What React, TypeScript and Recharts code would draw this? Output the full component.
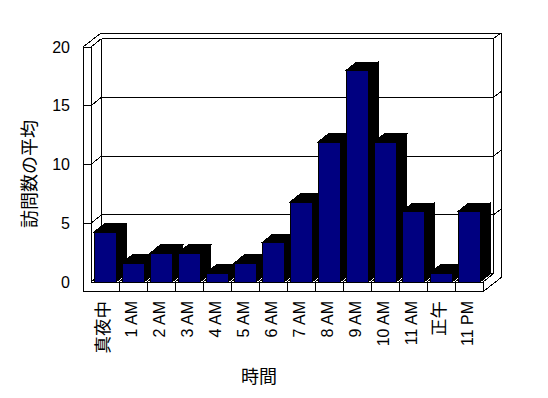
import { BarChart, Bar, XAxis, YAxis, CartesianGrid } from 'recharts';

const hours = [
  '真夜中', '1 AM', '2 AM', '3 AM', '4 AM', '5 AM', '6 AM',
  '7 AM', '8 AM', '9 AM', '10 AM', '11 AM', '正午', '11 PM',
];
const visits = [4.25, 1.6, 2.45, 2.45, 0.75, 1.6, 3.35, 6.8, 11.9, 18, 11.9, 6, 0.75, 6];
const yTicks = [0, 5, 10, 15, 20];

const data = hours.map((hour, i) => ({ hour, value: visits[i] }));

// depth offsets of the fake 3D box
const DX = 10.5;
const DY = -8.5;
const WALL = 8;
const FLOOR = 9.7;
const OX = 18;
const OY = -14;

const FONT = "'Liberation Sans', 'Noto Sans CJK JP', sans-serif";
const INK = '#000';

function seg(x1: number, y1: number, x2: number, y2: number, key: string) {
  return <line key={key} x1={x1} y1={y1} x2={x2} y2={y2} stroke={INK} strokeWidth={1} />;
}

function frame(x: number, y: number, w: number, h: number) {
  const b = y + h;
  const n = hours.length;
  const out = [
    // left wall
    seg(x - WALL, y, x - WALL, b + FLOOR, 'lw1'),
    seg(x - WALL, y, x, y, 'lw2'),
    seg(x, y, x, b, 'lw3'),
    seg(x - WALL, y, x - WALL + OX, y + OY, 'lw4'),
    seg(x, y, x + DX, y + DY, 'lw5'),
    seg(x + DX, y + DY, x + DX, b + DY, 'bp1'),
    // back wall top and right
    seg(x - WALL + OX, y + OY, x + w + OX, y + OY, 'bw1'),
    seg(x + w + DX, y + DY, x + w + OX, y + OY, 'bw2'),
    seg(x + w + OX, y + OY, x + w + OX, b + FLOOR + OY, 'bw3'),
    seg(x + w + DX, y + DY, x + w + DX, b + DY, 'bp2'),
    // floor
    seg(x, b, x + w, b, 'f1'),
    seg(x - WALL, b + FLOOR, x + w, b + FLOOR, 'f2'),
    seg(x + w, b, x + w, b + FLOOR, 'f3'),
    seg(x + w, b + FLOOR, x + w + OX, b + FLOOR + OY, 'f4'),
    seg(x + w, b, x + w + DX, b + DY, 'f5'),
    seg(x, b, x + DX, b + DY, 'f6'),
  ];
  for (let i = 1; i < n; i++) {
    const bx = x + (i * w) / n;
    out.push(seg(bx, b, bx, b + FLOOR, `d${i}`));
    out.push(seg(bx, b, bx + DX, b + DY, `dd${i}`));
  }
  return out;
}

function renderGridLine(p: any) {
  const { x, y, width, height, y1, index } = p;
  const inner = y1 > y + 0.5 && y1 < y + height - 0.5;
  return (
    <g key={`g-${index}`} shapeRendering="crispEdges">
      {index === 0 && frame(x, y, width, height)}
      {inner && seg(x - WALL, y1, x, y1, 'a')}
      {inner && seg(x, y1, x + DX, y1 + DY, 'b')}
      {seg(x + DX, y1 + DY, x + width + DX, y1 + DY, 'c')}
      {inner && seg(x + width + DX, y1 + DY, x + width + OX, y1 + OY, 'e')}
    </g>
  );
}

function Bar3D(props: any) {
  const { x, y, width, height } = props;
  return (
    <g shapeRendering="crispEdges">
      <polygon
        points={`${x},${y} ${x + DX},${y + DY} ${x + width + DX},${y + DY} ${x + width},${y}`}
        fill={INK}
        stroke={INK}
      />
      <polygon
        points={`${x + width},${y} ${x + width + DX},${y + DY} ${x + width + DX},${y + height + DY} ${x + width},${y + height}`}
        fill={INK}
        stroke={INK}
      />
      <rect x={x} y={y} width={width} height={height} fill="#000080" stroke={INK} />
    </g>
  );
}

function HourTick({ x, payload }: any) {
  const label = String(payload.value);
  const cjk = /[^\x00-\x7f]/.test(label);
  const tx = x - 2;
  const ty = 301;
  return (
    <text
      x={tx}
      y={ty}
      transform={`rotate(-90 ${tx} ${ty})`}
      textAnchor="end"
      dominantBaseline="central"
      fontFamily={FONT}
      fontSize={cjk ? 17.5 : 16}
      fill={INK}
    >
      {label}
    </text>
  );
}

function ValueTick({ y, payload }: any) {
  return (
    <text x={70} y={y} textAnchor="end" dominantBaseline="central" fontFamily={FONT} fontSize={16} fill={INK}>
      {payload.value}
    </text>
  );
}

const YTitle = () => (
  <text
    x={30}
    y={174}
    transform="rotate(-90 30 174)"
    textAnchor="middle"
    dominantBaseline="central"
    fontFamily={FONT}
    fontSize={18}
    fill={INK}
  >
    訪問数の平均
  </text>
);

const XTitle = () => (
  <text x={259} y={377} textAnchor="middle" dominantBaseline="central" fontFamily={FONT} fontSize={18} fill={INK}>
    時間
  </text>
);

export default function App() {
  return (
    <div style={{ position: 'absolute', left: 0, top: 0, width: 548, height: 398, background: '#fff' }}>
      <BarChart width={548} height={398} data={data} margin={{ top: 47, right: 65, bottom: 16, left: 0 }}>
        <CartesianGrid vertical={false} horizontal={renderGridLine} />
        <XAxis
          dataKey="hour"
          interval={0}
          height={100}
          axisLine={false}
          tickLine={false}
          tick={<HourTick />}
          label={<XTitle />}
        />
        <YAxis
          domain={[0, 20]}
          ticks={yTicks}
          width={91}
          axisLine={false}
          tickLine={false}
          tick={<ValueTick />}
          label={<YTitle />}
        />
        <Bar dataKey="value" barSize={22} shape={<Bar3D />} isAnimationActive={false} />
      </BarChart>
    </div>
  );
}
